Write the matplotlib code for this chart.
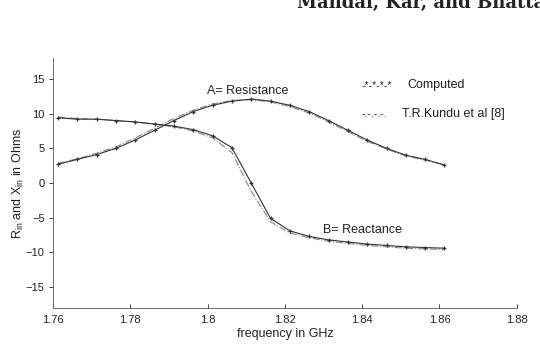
import matplotlib
matplotlib.use("Agg")
import matplotlib.pyplot as plt

plt.rcParams['font.family'] = ['Liberation Sans', 'DejaVu Sans']

# frequency points (GHz)
freq = [1.7613, 1.7663, 1.7713, 1.7763, 1.7813, 1.7863, 1.7913, 1.7963,
        1.8013, 1.8063, 1.8113, 1.8163, 1.8213, 1.8263, 1.8313, 1.8363,
        1.8413, 1.8463, 1.8513, 1.8563, 1.8613]

# computed
res_comp = [2.7, 3.4, 4.1, 5.0, 6.2, 7.6, 9.0, 10.3, 11.2, 11.8, 12.1,
            11.8, 11.2, 10.3, 9.0, 7.6, 6.2, 5.0, 4.0, 3.4, 2.6]
reac_comp = [9.4, 9.2, 9.2, 9.0, 8.8, 8.5, 8.2, 7.7, 6.8, 5.1, 0.0,
             -5.1, -6.9, -7.7, -8.2, -8.5, -8.8, -9.0, -9.2, -9.3, -9.4]

# T.R.Kundu et al [8]
res_kundu = [2.8, 3.5, 4.3, 5.2, 6.5, 7.9, 9.3, 10.5, 11.4, 11.9, 12.0,
             11.7, 11.0, 10.1, 8.8, 7.4, 6.0, 4.9, 3.9, 3.3, 2.6]
reac_kundu = [9.5, 9.3, 9.2, 9.0, 8.8, 8.5, 8.1, 7.5, 6.5, 4.4, -1.2,
              -5.6, -7.2, -7.9, -8.4, -8.7, -9.0, -9.2, -9.4, -9.5, -9.6]

fig = plt.figure(figsize=(5.4, 3.44), dpi=100)
ax = fig.add_axes([0.098, 0.105, 0.859, 0.726])

ax.plot(freq, res_kundu, linestyle='-.', color='#888888', lw=0.8)
ax.plot(freq, reac_kundu, linestyle='-.', color='#888888', lw=0.8)
ax.plot(freq, res_comp, '-', color='#333333', lw=0.8, marker='+', ms=3.5, mew=0.9)
ax.plot(freq, reac_comp, '-', color='#333333', lw=0.8, marker='+', ms=3.5, mew=0.9)

ax.set_xlim(1.76, 1.88)
ax.set_ylim(-18, 18)
ax.set_xticks([1.76, 1.78, 1.80, 1.82, 1.84, 1.86, 1.88])
ax.set_xticklabels(['1.76', '1.78', '1.8', '1.82', '1.84', '1.86', '1.88'])
ax.set_yticks([-15, -10, -5, 0, 5, 10, 15])
ax.tick_params(axis='x', direction='in', length=3, width=0.6, labelsize=8, pad=5, colors='#222222')
ax.tick_params(axis='y', direction='out', length=3, width=0.6, labelsize=8, pad=3, colors='#222222')
for s in ['top', 'right']:
    ax.spines[s].set_visible(False)
for s in ['left', 'bottom']:
    ax.spines[s].set_linewidth(0.6)
    ax.spines[s].set_color('#555555')

ax.set_xlabel('frequency in GHz', fontsize=9, labelpad=2, color='#222222')
ax.set_ylabel(r'R$_{\mathregular{in}}$ and X$_{\mathregular{in}}$ in Ohms', fontsize=9, color='#222222')
ax.yaxis.set_label_coords(-0.058, 0.5)

ax.text(1.7998, 12.8, 'A= Resistance', fontsize=9, color='#222222')
ax.text(1.8298, -7.2, 'B= Reactance', fontsize=9, color='#222222')
ax.text(1.8399, 13.7, '-*-*-*-*', fontsize=7.5, color='#222222')
ax.text(1.8516, 13.7, 'Computed', fontsize=9, color='#222222')
ax.text(1.8399, 9.5, '-.-.-.-.', fontsize=7.5, color='#222222')
ax.text(1.8503, 9.5, 'T.R.Kundu et al [8]', fontsize=9, color='#222222')

fig.text(0.55, 0.977, 'Mandal, Kar, and Bhattacharya', fontsize=13, fontweight='bold',
         family='DejaVu Serif', va='baseline', ha='left', color='#222222')

fig.savefig('out.png', dpi=100)
